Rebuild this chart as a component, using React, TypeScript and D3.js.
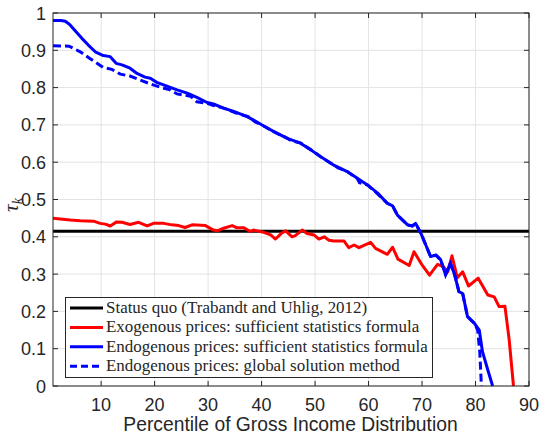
import React, { useEffect, useRef } from 'react';
import * as d3 from 'd3';

// percentile, tau_k
const statusQuo = 0.415;

const exoX = [1, 4.2, 6.1, 8.6, 9.8, 10.8, 11.7, 12.9, 13.9, 15.4, 17, 18.6, 19.8, 21.7, 23.2, 24.5, 25.7, 27, 29.5, 31, 31.7, 32.9, 34.5, 35.4, 36.7, 37.9, 38.5, 40.4, 41.7, 42.6, 43.6, 44.5, 45.7, 46.3, 47.6, 48.5, 49.8, 50.7, 51.7, 52.6, 53.5, 55.4, 56.3, 57.3, 58.2, 60.4, 61.3, 63.5, 64.5, 65.5, 67.6, 68.5, 69.9, 71.4, 72.9, 74.0, 74.8, 75.6, 76.6, 77.6, 78.7, 80.5, 82.3, 83.5, 84.4, 85.5, 86.3, 86.7, 87.1];
const exoY = [0.45, 0.445, 0.443, 0.442, 0.436, 0.434, 0.429, 0.44, 0.439, 0.433, 0.439, 0.429, 0.436, 0.436, 0.432, 0.43, 0.425, 0.432, 0.43, 0.418, 0.416, 0.423, 0.43, 0.424, 0.424, 0.414, 0.418, 0.412, 0.405, 0.394, 0.408, 0.416, 0.4, 0.403, 0.418, 0.409, 0.405, 0.394, 0.4, 0.391, 0.389, 0.389, 0.371, 0.378, 0.371, 0.385, 0.369, 0.353, 0.372, 0.34, 0.323, 0.36, 0.327, 0.297, 0.326, 0.32, 0.306, 0.349, 0.29, 0.306, 0.268, 0.289, 0.244, 0.239, 0.213, 0.214, 0.123, 0.061, 0];

const endoX = [1, 2.5, 3.3, 4.2, 5.1, 6.4, 7.6, 8.9, 10.4, 11.7, 12.8, 13.9, 15.4, 16.7, 18.2, 19.2, 20.4, 22.3, 24.2, 26.1, 27.9, 29.8, 31, 32.9, 34.8, 37.3, 38.5, 40.4, 42.3, 44.8, 47.3, 49.2, 51, 53.5, 56, 57.9, 59.8, 61.7, 63.5, 64.5, 65.4, 67.3, 68.2, 68.8, 69.8, 70.7, 71.6, 72.6, 73.5, 74.4, 75.3, 76.1, 76.9, 77.6, 78.5, 79.8, 80.7, 81.3, 82.3, 83.2];
const endoY = [0.98, 0.98, 0.978, 0.968, 0.953, 0.932, 0.914, 0.896, 0.886, 0.883, 0.865, 0.861, 0.852, 0.838, 0.828, 0.825, 0.814, 0.804, 0.794, 0.785, 0.774, 0.76, 0.756, 0.745, 0.736, 0.722, 0.713, 0.697, 0.682, 0.664, 0.651, 0.633, 0.615, 0.592, 0.575, 0.557, 0.539, 0.517, 0.49, 0.483, 0.458, 0.432, 0.429, 0.436, 0.409, 0.378, 0.347, 0.351, 0.338, 0.298, 0.329, 0.298, 0.253, 0.248, 0.186, 0.168, 0.15, 0.092, 0.043, 0];

const globX = [1, 4, 6.1, 7.9, 10.4, 12, 13.6, 15.4, 17.3, 19.2, 21.1, 22.9, 24.2, 26.7, 27.9, 29.8, 31, 32.9, 35, 37.5, 38.8, 40.4, 42.5, 44.5, 45.5, 47.3, 49.2, 51.2, 53.5, 54.3, 56, 57.9, 58.3, 59.8, 61.7, 63.5, 64.5, 65.4, 67.3, 68.2, 68.8, 69.8, 70.7, 71.6, 72.6, 73.5, 74.4, 75.3, 76.1, 76.9, 77.6, 78.5, 79.8, 80.4, 80.8, 81.1];
const globY = [0.912, 0.911, 0.896, 0.878, 0.854, 0.849, 0.836, 0.831, 0.82, 0.81, 0.801, 0.794, 0.783, 0.777, 0.762, 0.758, 0.752, 0.745, 0.733, 0.722, 0.708, 0.697, 0.68, 0.667, 0.658, 0.651, 0.634, 0.613, 0.592, 0.585, 0.575, 0.556, 0.545, 0.539, 0.515, 0.49, 0.483, 0.458, 0.432, 0.429, 0.436, 0.409, 0.378, 0.347, 0.351, 0.338, 0.298, 0.329, 0.298, 0.253, 0.248, 0.186, 0.168, 0.15, 0.09, 0];

const xTicks = [10, 20, 30, 40, 50, 60, 70, 80, 90];
const yTicks = [0, 0.1, 0.2, 0.3, 0.4, 0.5, 0.6, 0.7, 0.8, 0.9, 1];

const legendLabels = [
  'Status quo (Trabandt and Uhlig, 2012)',
  'Exogenous prices: sufficient statistics formula',
  'Endogenous prices: sufficient statistics formula',
  'Endogenous prices: global solution method',
];

const App = () => {
  const chartRef = useRef<SVGSVGElement>(null);

  useEffect(() => {
    drawChart();
  }, []);

  const drawChart = () => {
    const W = 542, H = 434;
    const left = 53, right = 529, top = 13, bottom = 386;
    const axisColor = '#262626';
    const sans = 'Liberation Sans';
    const serif = 'Liberation Serif';

    const svg = d3.select(chartRef.current).attr('width', W).attr('height', H);
    svg.selectAll('*').remove();

    const x = d3.scaleLinear().domain([1, 90]).range([left, right]);
    const y = d3.scaleLinear().domain([0, 1]).range([bottom, top]);

    svg.append('rect').attr('width', W).attr('height', H).attr('fill', '#fff');

    // grid
    const grid = svg.append('g').attr('stroke', '#e3e3e3').attr('stroke-width', 1);
    xTicks.forEach(t => grid.append('line').attr('x1', x(t)).attr('x2', x(t)).attr('y1', top).attr('y2', bottom));
    yTicks.forEach(t => grid.append('line').attr('x1', left).attr('x2', right).attr('y1', y(t)).attr('y2', y(t)));

    svg.append('clipPath').attr('id', 'plotclip')
      .append('rect').attr('x', left).attr('y', top).attr('width', right - left).attr('height', bottom - top + 2);

    const plot = svg.append('g').attr('clip-path', 'url(#plotclip)');
    const line = d3.line<[number, number]>().x(d => x(d[0])).y(d => y(d[1]));
    const zip = (a: number[], b: number[]) => a.map((v, i) => [v, b[i]] as [number, number]);

    plot.append('path').datum([[1, statusQuo], [90, statusQuo]] as [number, number][])
      .attr('d', line).attr('fill', 'none').attr('stroke', '#000').attr('stroke-width', 3);
    plot.append('path').datum(zip(exoX, exoY))
      .attr('d', line).attr('fill', 'none').attr('stroke', '#ff0000').attr('stroke-width', 3).attr('stroke-linejoin', 'round');
    plot.append('path').datum(zip(endoX, endoY))
      .attr('d', line).attr('fill', 'none').attr('stroke', '#0000ff').attr('stroke-width', 3).attr('stroke-linejoin', 'round');
    plot.append('path').datum(zip(globX, globY))
      .attr('d', line).attr('fill', 'none').attr('stroke', '#0000ff').attr('stroke-width', 3).attr('stroke-dasharray', '8 4');

    // axes box with inward ticks on all sides
    const ax = svg.append('g').attr('stroke', axisColor).attr('stroke-width', 1).attr('fill', 'none');
    ax.append('rect').attr('x', left).attr('y', top).attr('width', right - left).attr('height', bottom - top);
    const tl = 5;
    xTicks.forEach(t => {
      ax.append('line').attr('x1', x(t)).attr('x2', x(t)).attr('y1', bottom).attr('y2', bottom - tl);
      ax.append('line').attr('x1', x(t)).attr('x2', x(t)).attr('y1', top).attr('y2', top + tl);
    });
    yTicks.forEach(t => {
      ax.append('line').attr('x1', left).attr('x2', left + tl).attr('y1', y(t)).attr('y2', y(t));
      ax.append('line').attr('x1', right).attr('x2', right - tl).attr('y1', y(t)).attr('y2', y(t));
    });

    svg.append('g').selectAll('text').data(xTicks).enter().append('text')
      .attr('x', d => x(d)).attr('y', 411).attr('text-anchor', 'middle')
      .style('font-family', sans).style('font-size', '18px').attr('fill', axisColor)
      .text(d => d);
    svg.append('g').selectAll('text').data(yTicks).enter().append('text')
      .attr('x', 46).attr('y', d => y(d) + 6.5).attr('text-anchor', 'end')
      .style('font-family', sans).style('font-size', '18px').attr('fill', axisColor)
      .text(d => d3.format('~g')(d));

    svg.append('text').attr('x', 290.5).attr('y', 431).attr('text-anchor', 'middle')
      .style('font-family', sans).style('font-size', '19.3px').attr('fill', axisColor)
      .text('Percentile of Gross Income Distribution');

    const yl = svg.append('text').attr('transform', 'translate(18,205) rotate(-90)')
      .attr('text-anchor', 'middle').style('font-family', serif)
      .style('font-size', '21px').attr('fill', axisColor);
    yl.append('tspan').style('font-style', 'italic').text('τ');
    yl.append('tspan').style('font-style', 'italic').style('font-size', '14px').attr('dy', 4).text('k');

    // legend
    const lg = svg.append('g');
    lg.append('rect').attr('x', 65.5).attr('y', 297.5).attr('width', 367).attr('height', 80)
      .attr('fill', '#fff').attr('stroke', axisColor).attr('stroke-width', 1);
    const colors = ['#000', '#ff0000', '#0000ff', '#0000ff'];
    const texts = legendLabels.map((lab, i) => {
      const cy = 308 + i * 19.4;
      lg.append('line').attr('x1', 70).attr('x2', 103).attr('y1', cy).attr('y2', cy)
        .attr('stroke', colors[i]).attr('stroke-width', 3)
        .attr('stroke-dasharray', i === 3 ? '7 4' : null);
      return lg.append('text').attr('x', 106).attr('y', cy + 5)
        .style('font-family', serif).style('font-size', '16px').attr('fill', axisColor)
        .text(lab);
    });
    // fit the longest entry to the reference width
    const longest = (texts[2].node() as SVGTextElement).getComputedTextLength();
    if (longest > 0) {
      const fs = Math.min(17, 16 * 322 / longest);
      texts.forEach(t => t.style('font-size', `${fs}px`));
    }
  };

  return (
    <svg ref={chartRef} style={{ position: 'absolute', left: 0, top: 0 }}></svg>
  );
};

export default App;
